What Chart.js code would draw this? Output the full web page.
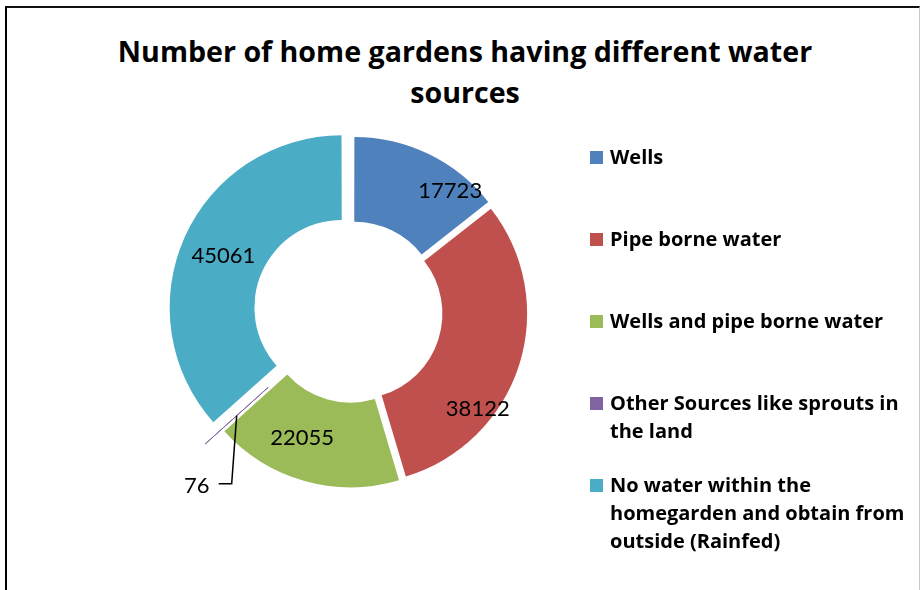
<!DOCTYPE html>
<html><head><meta charset="utf-8">
<script src="https://cdn.jsdelivr.net/npm/chart.js@4.4.0/dist/chart.umd.min.js"></script>
<style>
html,body{margin:0;padding:0;background:#fff;width:921px;height:590px;overflow:hidden;}
#frame{position:absolute;left:5px;top:6px;width:915px;height:600px;border-left:2px solid #000;border-top:2px solid #111;border-right:1px solid #c8c8c8;box-sizing:border-box;}
#title{position:absolute;left:95px;width:740px;top:30px;text-align:center;font-family:"Open Sans";font-weight:bold;font-size:28.6px;line-height:41px;color:#000;}
#c{position:absolute;left:0;top:0;}
.li{position:absolute;left:590px;width:325px;font-family:"Open Sans";font-weight:bold;font-size:20px;line-height:28px;color:#000;}
.li .sw{position:absolute;left:0;top:7.5px;width:13px;height:13px;}
.li .tx{margin-left:20px;display:block;}
</style></head>
<body>
<div id="frame"></div>
<div id="title">Number of home gardens having different water sources</div>
<canvas id="c" width="921" height="590"></canvas>
<div id="legend"></div>
<script>
const categories = ["Wells","Pipe borne water","Wells and pipe borne water","Other Sources like sprouts in the land","No water within the homegarden and obtain from outside (Rainfed)"];
const values = [17723, 38122, 22055, 76, 45061];
const colors = ["#4F81BD","#C0504D","#9BBB59","#8064A2","#4BACC6"];
const explode = [5, 5.5, 5.5, 14, 11];
const labelNudge = [[40,-2],[-1,56],[-14,-3],[-40,69],[0,0]];

// legend
const lg = document.getElementById('legend');
categories.forEach((c,i)=>{
  const d = document.createElement('div');
  d.className='li';
  d.style.top = (143 + i*82) + 'px';
  d.innerHTML = '<span class="sw" style="background:'+colors[i]+'"></span><span class="tx"></span>';
  d.querySelector('.tx').textContent = c;
  lg.appendChild(d);
});

// Chart.js v4 arcs translate by offset/4
const OFFSET_SCALE = 4;

const labelPlugin = {
  id:'arcLabels',
  afterDatasetsDraw(chart){
    const ctx = chart.ctx;
    const meta = chart.getDatasetMeta(0);
    ctx.save();
    ctx.font = '22px Lato';
    ctx.fillStyle = '#000';
    ctx.textAlign='center';
    ctx.textBaseline='middle';
    meta.data.forEach((arc,i)=>{
      const p = arc.getProps(['x','y','startAngle','endAngle','innerRadius','outerRadius'], true);
      const off = (arc.options.offset || 0) / OFFSET_SCALE;
      const circ = p.endAngle - p.startAngle;
      const fix = 1 - Math.sin(Math.min(Math.PI, circ));
      const mid = (p.startAngle+p.endAngle)/2;
      const r = (p.innerRadius+p.outerRadius)/2 + off*(1+fix);
      const ax = p.x + Math.cos(mid)*r, ay = p.y + Math.sin(mid)*r;
      const lx = ax + labelNudge[i][0], ly = ay + labelNudge[i][1];
      if (values[i] < 1000) {
        ctx.beginPath();
        ctx.strokeStyle='#000';
        ctx.lineWidth=1.5;
        ctx.moveTo(ax,ay);
        ctx.lineTo(ax-5, ly-1);
        ctx.lineTo(lx+22, ly-1);
        ctx.stroke();
      }
      ctx.fillText(String(values[i]), lx, ly+1);
    });
    ctx.restore();
  }
};

new Chart(document.getElementById('c'), {
  type:'doughnut',
  data:{labels:categories, datasets:[{data:values, backgroundColor:colors,
    borderWidth:values.map(v=> v < 1000 ? 1 : 0), borderColor:colors,
    hoverOffset:0, offset:explode.map(v=>v*OFFSET_SCALE)}]},
  options:{
    responsive:false, animation:false, events:[],
    cutout:'50%',
    layout:{padding:{left:154, top:114, right:371, bottom:80}},
    plugins:{legend:{display:false}, tooltip:{enabled:false}, title:{display:false}}
  },
  plugins:[labelPlugin]
});
</script>
</body></html>
